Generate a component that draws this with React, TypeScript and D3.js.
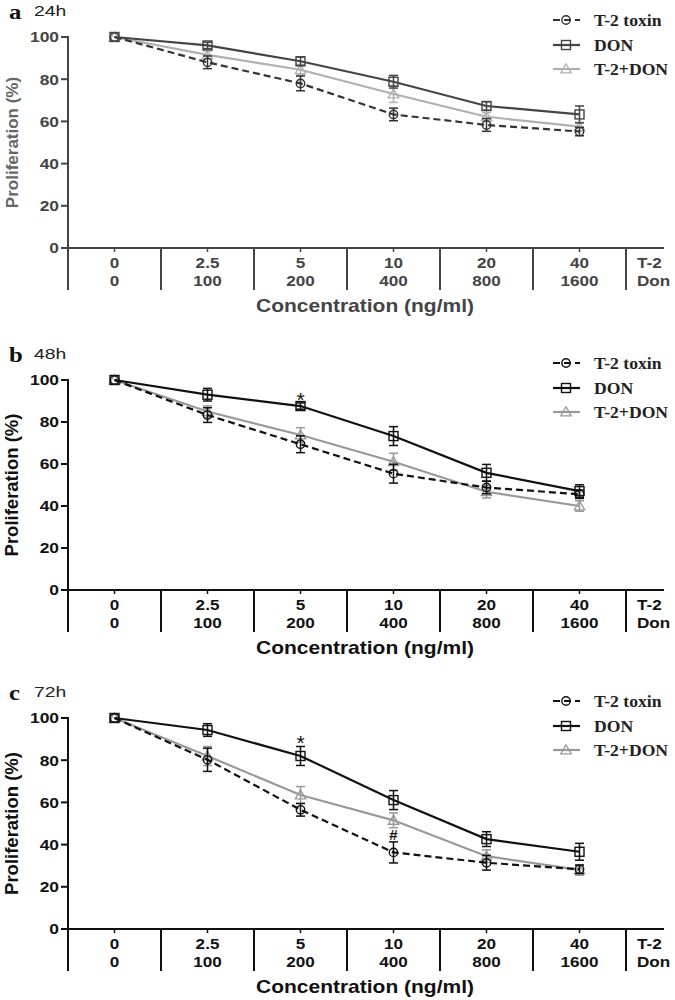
import React from "react";
import * as d3 from "d3";

const doseT2 = ["0", "2.5", "5", "10", "20", "40"];
const doseDon = ["0", "100", "200", "400", "800", "1600"];
const yTicks = [0, 20, 40, 60, 80, 100];
const seriesNames = ["T-2 toxin", "DON", "T-2+DON"];

// 24h
const a_T2 = [100, 88, 78, 63.3, 58.3, 55.2];
const a_T2_err = [0, 3, 3.5, 3, 3, 2];
const a_DON = [100, 96, 88.5, 78.8, 67.3, 63.3];
const a_DON_err = [0, 1.5, 2, 3, 2, 4];
const a_MIX = [100, 91.5, 84.5, 73, 62.2, 57.5];
const a_MIX_err = [0, 2, 2.5, 4, 2, 2];

// 48h
const b_T2 = [100, 83.3, 69.4, 55.4, 48.8, 45.6];
const b_T2_err = [0, 3.5, 4, 4.5, 3, 2];
const b_DON = [100, 93, 87.6, 73.3, 55.8, 47.1];
const b_DON_err = [0, 3, 1.5, 4.5, 4, 3];
const b_MIX = [100, 85, 73.8, 61.1, 46.8, 40];
const b_MIX_err = [0, 2.7, 3.5, 4, 3, 2.5];

// 72h
const c_T2 = [100, 80.2, 56.5, 36.3, 31.4, 28.3];
const c_T2_err = [0, 5.5, 3, 5, 3.5, 2];
const c_DON = [100, 94.3, 82, 61.1, 42.6, 36.6];
const c_DON_err = [0, 3, 4.5, 4.5, 3.5, 4];
const c_MIX = [100, 82, 63.5, 51.5, 34.5, 28];
const c_MIX_err = [0, 4.5, 4, 3.5, 3, 2.5];

// annotations: [series index, category index, symbol]
const b_marks: [number, number, string][] = [[1, 2, "*"]];
const c_marks: [number, number, string][] = [[1, 2, "*"], [0, 3, "#"]];

const SANS = "'Liberation Sans', Arial, sans-serif";
const SERIF = "'Liberation Serif', 'Times New Roman', serif";

type TProps = {
  x: number; y: number; sx?: number; anchor?: string; size: number;
  fill: string; family?: string; weight?: string | number; children: React.ReactNode;
};
const T = ({ x, y, sx = 1, anchor = "start", size, fill, family = SANS, weight = "bold", children }: TProps) => (
  <text
    transform={`translate(${x},${y}) scale(${sx},1)`}
    textAnchor={anchor}
    fontSize={size}
    fill={fill}
    fontFamily={family}
    fontWeight={weight}
  >
    {children}
  </text>
);

function Marker({ kind, x, y, color }: { kind: number; x: number; y: number; color: string }) {
  if (kind === 0) return <circle cx={x} cy={y} r={4.2} fill="none" stroke={color} strokeWidth={1.4} />;
  if (kind === 1) return <rect x={x - 4.5} y={y - 4.5} width={9} height={9} fill="none" stroke={color} strokeWidth={1.4} />;
  const s = 5.2;
  return (
    <path
      d={`M${x},${y - s} L${x + s},${y + s * 0.75} L${x - s},${y + s * 0.75} Z`}
      fill="none"
      stroke={color}
      strokeWidth={1.3}
    />
  );
}

type PanelProps = {
  letter: string; hours: string; y100: number; y0: number;
  values: number[][]; errs: number[][]; marks: [number, number, string][];
  axisColor: string; colors: string[]; labelSize: number; labelColor: string;
};

function Panel({ letter, hours, y100, y0, values, errs, marks, axisColor, colors, labelSize, labelColor }: PanelProps) {
  const x = d3.scaleBand<number>().domain(d3.range(6)).range([68, 626]).padding(0);
  const bw = x.bandwidth();
  const cx = (i: number) => (x(i) as number) + bw / 2;
  const y = d3.scaleLinear().domain([0, 100]).range([y0, y100]);
  const line = d3.line<number>().x((_, i) => cx(i)).y((v) => y(v));
  const dashes = ["7,4", null, null];
  const order = [2, 0, 1];
  const bottom = y0 + 42;
  const boundaries = d3.range(7).map((i) => 68 + i * bw);

  return (
    <g>
      <T x={9} y={y100 - 18} size={21.5} sx={1.15} fill="#111" family={SERIF}>{letter}</T>
      <T x={34} y={y100 - 21} size={15.5} sx={1.25} fill="#222" weight="normal">{hours}</T>

      {/* y axis */}
      <line x1={68} x2={68} y1={y100 - 1} y2={bottom} stroke={axisColor} strokeWidth={2} />
      {yTicks.map((t) => (
        <g key={t}>
          <line x1={61} x2={68} y1={y(t)} y2={y(t)} stroke={axisColor} strokeWidth={2} />
          <T x={59} y={y(t) + 5.3} size={14.5} sx={1.2} anchor="end" fill={axisColor}>{t}</T>
        </g>
      ))}
      <text
        transform={`translate(18,${(y0 + y100) / 2}) rotate(-90)`}
        textAnchor="middle"
        fontSize={labelSize}
        fontFamily={SANS}
        fontWeight="bold"
        fill={labelColor}
      >
        Proliferation (%)
      </text>

      {/* x axis */}
      <line x1={68} x2={664} y1={y0} y2={y0} stroke={axisColor} strokeWidth={2} />
      {boundaries.map((b, i) => (
        <line key={i} x1={b} x2={b} y1={y0} y2={bottom} stroke={axisColor} strokeWidth={2} />
      ))}
      {d3.range(6).map((i) => (
        <g key={i}>
          <line x1={cx(i)} x2={cx(i)} y1={y0} y2={y0 + 4} stroke={axisColor} strokeWidth={1.5} />
          <T x={cx(i)} y={y0 + 20} size={15} sx={1.14} anchor="middle" fill={axisColor}>{doseT2[i]}</T>
          <T x={cx(i)} y={y0 + 38} size={15} sx={1.14} anchor="middle" fill={axisColor}>{doseDon[i]}</T>
        </g>
      ))}
      <T x={637} y={y0 + 20} size={15} sx={1.14} fill={axisColor}>T-2</T>
      <T x={637} y={y0 + 38} size={15} sx={1.14} fill={axisColor}>Don</T>
      <T x={365} y={y0 + 64} size={17.5} sx={1.2} anchor="middle" fill={axisColor}>Concentration (ng/ml)</T>

      {/* series */}
      {order.map((s) => (
        <g key={s}>
          <path
            d={line(values[s]) as string}
            fill="none"
            stroke={colors[s]}
            strokeWidth={2.2}
            strokeDasharray={dashes[s] ?? undefined}
          />
          {values[s].map((v, i) =>
            errs[s][i] > 0 ? (
              <g key={i} stroke={colors[s]} strokeWidth={1.5}>
                <line x1={cx(i)} x2={cx(i)} y1={y(v - errs[s][i])} y2={y(v + errs[s][i])} />
                <line x1={cx(i) - 4.5} x2={cx(i) + 4.5} y1={y(v + errs[s][i])} y2={y(v + errs[s][i])} />
                <line x1={cx(i) - 4.5} x2={cx(i) + 4.5} y1={y(v - errs[s][i])} y2={y(v - errs[s][i])} />
              </g>
            ) : null
          )}
          {values[s].map((v, i) => (
            <Marker key={i} kind={s} x={cx(i)} y={y(v)} color={colors[s]} />
          ))}
        </g>
      ))}

      {marks.map(([s, i, sym], k) => (
        <T
          key={k}
          x={cx(i)}
          y={y(values[s][i] + errs[s][i]) + (sym === "*" ? 4 : -2)}
          size={sym === "*" ? 21 : 15}
          anchor="middle"
          fill="#111"
          weight={sym === "*" ? "normal" : "bold"}
        >
          {sym}
        </T>
      ))}

      {/* legend */}
      {seriesNames.map((name, s) => {
        const ly = y100 + [-17, 8, 32][s];
        return (
          <g key={name}>
            <line
              x1={553}
              x2={580}
              y1={ly}
              y2={ly}
              stroke={colors[s]}
              strokeWidth={2.2}
              strokeDasharray={dashes[s] ?? undefined}
            />
            <Marker kind={s} x={566} y={ly} color={colors[s]} />
            <T x={594} y={ly + 5.5} size={16.5} sx={1.07} family={SERIF} fill="#222">{name}</T>
          </g>
        );
      })}
    </g>
  );
}

export default function App() {
  return (
    <svg
      width={675}
      height={1000}
      viewBox="0 0 675 1000"
      style={{ position: "absolute", left: 0, top: 0, background: "#fff" }}
    >
      <rect width={675} height={1000} fill="#fff" />
      <Panel
        letter="a"
        hours="24h"
        y100={37}
        y0={248}
        values={[a_T2, a_DON, a_MIX]}
        errs={[a_T2_err, a_DON_err, a_MIX_err]}
        marks={[]}
        axisColor="#444"
        colors={["#333", "#444", "#b0b0b0"]}
        labelSize={17}
        labelColor="#666"
      />
      <Panel
        letter="b"
        hours="48h"
        y100={380}
        y0={590}
        values={[b_T2, b_DON, b_MIX]}
        errs={[b_T2_err, b_DON_err, b_MIX_err]}
        marks={b_marks}
        axisColor="#111"
        colors={["#111", "#111", "#999"]}
        labelSize={18.5}
        labelColor="#111"
      />
      <Panel
        letter="c"
        hours="72h"
        y100={718}
        y0={929}
        values={[c_T2, c_DON, c_MIX]}
        errs={[c_T2_err, c_DON_err, c_MIX_err]}
        marks={c_marks}
        axisColor="#111"
        colors={["#111", "#111", "#999"]}
        labelSize={18.5}
        labelColor="#111"
      />
    </svg>
  );
}
